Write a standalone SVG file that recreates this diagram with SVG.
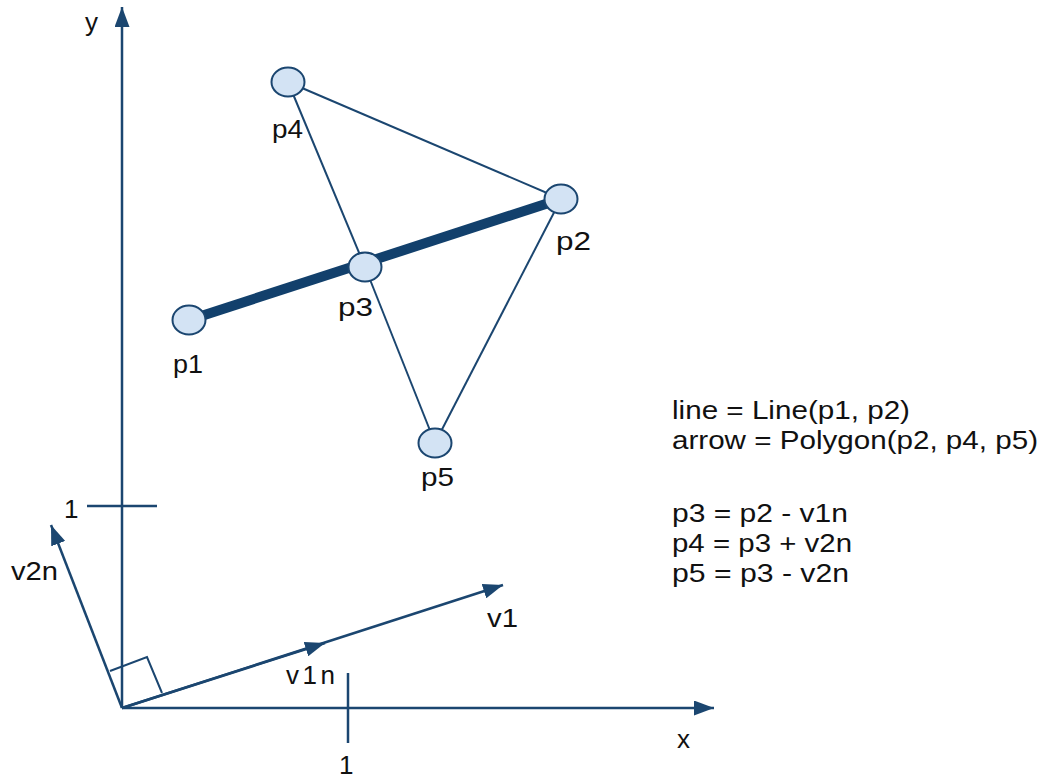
<svg xmlns="http://www.w3.org/2000/svg" width="1046" height="780" viewBox="0 0 1046 780">
<defs>
<style>
.ax{stroke:#1b4670;stroke-width:2.5;fill:none}
.ln{stroke:#1b4670;stroke-width:2;fill:none}
.thick{stroke:#12406c;stroke-width:10;fill:none}
.pt{fill:#d3e3f4;stroke:#1b4670;stroke-width:2}
text{font-family:"Liberation Sans",Arial,sans-serif;font-size:25px;fill:#111}
.lb{font-size:26px}
</style>
<marker id="ah" markerUnits="userSpaceOnUse" markerWidth="20" markerHeight="15" refX="20" refY="7.5" orient="auto">
<path d="M0,0 L20,7.5 L0,15 z" fill="#1b4670"/>
</marker>
</defs>
<rect width="1046" height="780" fill="#fff"/>
<g id="connectors">
<line class="ax" x1="122" y1="708" x2="122" y2="7" marker-end="url(#ah)"/>
<line class="ax" x1="122" y1="708" x2="714" y2="708" marker-end="url(#ah)"/>
<line class="ax" x1="87" y1="506" x2="157" y2="506"/>
<line class="ax" x1="348" y1="673" x2="348" y2="743"/>
<line class="ax" x1="122" y1="708" x2="51" y2="525" marker-end="url(#ah)"/>
<line class="ax" x1="122" y1="708" x2="503" y2="585" marker-end="url(#ah)"/>
<line class="ax" x1="122" y1="708" x2="325" y2="643" marker-end="url(#ah)"/>
<polyline class="ln" points="110,671 147,657 162,693"/>
<line class="thick" x1="189" y1="320" x2="561" y2="199"/>
<line class="ln" x1="288" y1="82" x2="561" y2="199"/>
<line class="ln" x1="561" y1="199" x2="435" y2="443"/>
<line class="ln" x1="288" y1="82" x2="365" y2="267"/>
<line class="ln" x1="365" y1="267" x2="435" y2="443"/>
</g>
<g id="p1"><ellipse class="pt" cx="189" cy="320" rx="16.5" ry="14.5"/><text class="lb" x="173" y="373" textLength="30" lengthAdjust="spacingAndGlyphs">p1</text></g>
<g id="p2"><ellipse class="pt" cx="561" cy="199" rx="16.5" ry="14.5"/><text class="lb" x="556" y="250" textLength="35" lengthAdjust="spacingAndGlyphs">p2</text></g>
<g id="p3"><ellipse class="pt" cx="365" cy="267" rx="16.5" ry="14.5"/><text class="lb" x="338" y="316" textLength="35" lengthAdjust="spacingAndGlyphs">p3</text></g>
<g id="p4"><ellipse class="pt" cx="288" cy="82" rx="16.5" ry="14.5"/><text class="lb" x="272" y="138" textLength="31" lengthAdjust="spacingAndGlyphs">p4</text></g>
<g id="p5"><ellipse class="pt" cx="435" cy="443" rx="16.5" ry="14.5"/><text class="lb" x="421" y="486" textLength="33" lengthAdjust="spacingAndGlyphs">p5</text></g>
<g id="labels">
<text class="lb" x="85" y="31">y</text>
<text class="lb" x="677" y="748">x</text>
<text class="lb" x="64" y="518">1</text>
<text class="lb" x="339" y="774">1</text>
<text class="lb" x="11" y="580" textLength="47" lengthAdjust="spacingAndGlyphs">v2n</text>
<text class="lb" x="286" y="684" textLength="49" lengthAdjust="spacing">v1n</text>
<text class="lb" x="487" y="627" textLength="31" lengthAdjust="spacingAndGlyphs">v1</text>
</g>
<g id="code">
<text x="672" y="419" textLength="238" lengthAdjust="spacingAndGlyphs">line = Line(p1, p2)</text>
<text x="672" y="449" textLength="366" lengthAdjust="spacingAndGlyphs">arrow = Polygon(p2, p4, p5)</text>
<text x="672" y="522" textLength="176" lengthAdjust="spacingAndGlyphs">p3 = p2 - v1n</text>
<text x="672" y="552" textLength="180" lengthAdjust="spacingAndGlyphs">p4 = p3 + v2n</text>
<text x="672" y="582" textLength="177" lengthAdjust="spacingAndGlyphs">p5 = p3 - v2n</text>
</g>
</svg>
